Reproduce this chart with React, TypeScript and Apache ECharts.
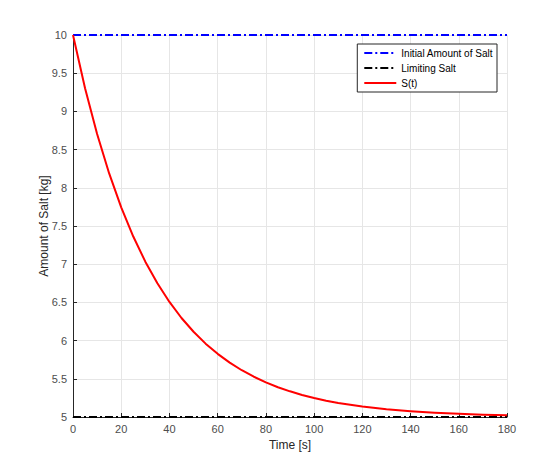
import React, { useEffect, useRef } from "react";
import * as echarts from "echarts";

const timeValues = [0, 5, 10, 15, 20, 25, 30, 35, 40, 45, 50, 55, 60, 65, 70, 75, 80, 85, 90, 95, 100, 105, 110, 115, 120, 130, 140, 150, 160, 170, 180];
const saltValues = [10, 9.304, 8.704, 8.188, 7.744, 7.362, 7.033, 6.75, 6.506, 6.296, 6.116, 5.96, 5.827, 5.712, 5.612, 5.527, 5.454, 5.39, 5.336, 5.289, 5.249, 5.214, 5.184, 5.159, 5.137, 5.101, 5.075, 5.055, 5.041, 5.03, 5.022];
const initialSalt = 10;
const limitingSalt = 5;
const timeRange = [0, 180];
const seriesNames = ["Initial Amount of Salt", "Limiting Salt", "S(t)"];

export default function App() {
  const ref = useRef<HTMLDivElement>(null);
  useEffect(() => {
    if (!ref.current) return;
    const chart = echarts.init(ref.current, undefined, { renderer: "svg" });
    const font = "'Liberation Sans', Arial, Helvetica, sans-serif";
    const dashDot = [8, 3, 2, 3];
    chart.setOption({
      animation: false,
      backgroundColor: "#ffffff",
      textStyle: { fontFamily: font },
      grid: { left: 73, right: 53, top: 35, bottom: 52, containLabel: false },
      legend: {
        orient: "vertical",
        right: 63,
        top: 44,
        itemWidth: 32,
        itemHeight: 10,
        itemGap: 5,
        padding: [4, 4, 4, 6],
        borderColor: "#262626",
        borderWidth: 1,
        backgroundColor: "#ffffff",
        itemStyle: { opacity: 0 },
        textStyle: { fontSize: 10, color: "#000", fontFamily: font },
        data: seriesNames,
      },
      xAxis: {
        type: "value",
        min: timeRange[0],
        max: timeRange[1],
        interval: 20,
        name: "Time [s]",
        nameLocation: "middle",
        nameGap: 22,
        nameMoveOverlap: false,
        nameTextStyle: { fontSize: 12, color: "#262626" },
        axisLine: { show: true, onZero: false, lineStyle: { color: "#262626", width: 1 } },
        axisTick: { show: true, inside: true, length: 4, lineStyle: { color: "#262626" } },
        axisLabel: { fontSize: 11, color: "#4d4d4d", margin: 6 },
        splitLine: { show: true, lineStyle: { color: "#e6e6e6", width: 1 } },
      },
      yAxis: {
        type: "value",
        min: 5,
        max: 10,
        interval: 0.5,
        name: "Amount of Salt [kg]",
        nameLocation: "middle",
        nameGap: 23,
        nameMoveOverlap: false,
        nameTextStyle: { fontSize: 12, color: "#262626" },
        axisLine: { show: true, onZero: false, lineStyle: { color: "#262626", width: 1 } },
        axisTick: { show: true, inside: true, length: 4, lineStyle: { color: "#262626" } },
        axisLabel: { fontSize: 11, color: "#4d4d4d", margin: 6 },
        splitLine: { show: true, lineStyle: { color: "#e6e6e6", width: 1 } },
      },
      series: [
        {
          name: seriesNames[0],
          type: "line",
          symbol: "none",
          data: [[timeRange[0], initialSalt], [timeRange[1], initialSalt]],
          lineStyle: { color: "#0000ff", width: 2, type: dashDot },
          itemStyle: { color: "#0000ff" },
          z: 3,
        },
        {
          name: seriesNames[1],
          type: "line",
          symbol: "none",
          data: [[timeRange[0], limitingSalt], [timeRange[1], limitingSalt]],
          lineStyle: { color: "#000000", width: 2, type: dashDot },
          itemStyle: { color: "#000000" },
          z: 3,
        },
        {
          name: seriesNames[2],
          type: "line",
          symbol: "none",
          smooth: false,
          data: timeValues.map((t, i) => [t, saltValues[i]]),
          lineStyle: { color: "#ff0000", width: 2, join: "round" },
          itemStyle: { color: "#ff0000" },
          z: 4,
        },
      ],
    });
    return () => chart.dispose();
  }, []);
  return (
    <div
      ref={ref}
      style={{ position: "fixed", left: 0, top: 0, width: 560, height: 469, background: "#fff" }}
    />
  );
}
